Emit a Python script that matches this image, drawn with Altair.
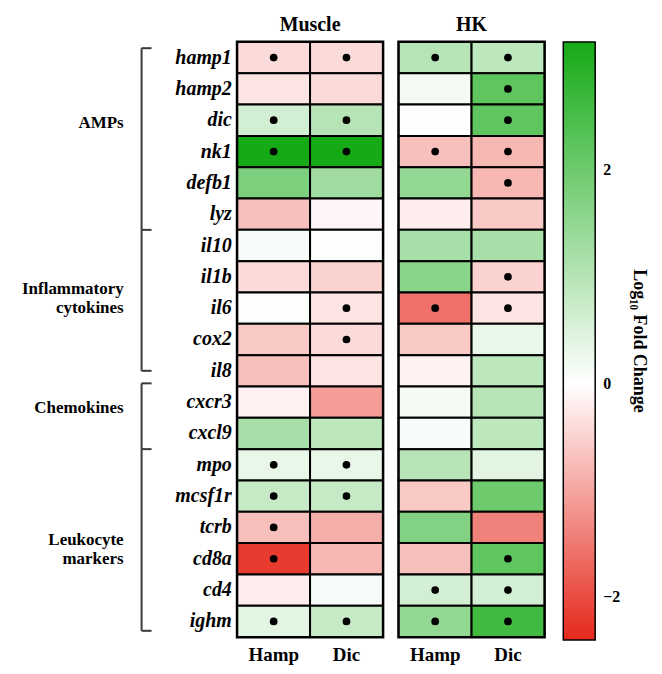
import altair as alt
import pandas as pd

genes = ["hamp1", "hamp2", "dic", "nk1", "defb1", "lyz", "il10", "il1b", "il6", "cox2",
         "il8", "cxcr3", "cxcl9", "mpo", "mcsf1r", "tcrb", "cd8a", "cd4", "ighm"]
treatments = ["Hamp", "Dic"]

muscle_hamp = [-0.4, -0.3, 0.6, 3.2, 1.8, -0.7, 0.1, -0.4, 0.05, -0.6, -0.7, -0.15, 1.2, 0.3, 0.8, -0.7, -2.2, -0.2, 0.4]
muscle_dic = [-0.4, -0.4, 1.0, 3.2, 1.3, -0.1, 0.05, -0.5, -0.3, -0.4, -0.3, -1.1, 0.9, 0.3, 0.8, -0.9, -0.8, 0.1, 0.8]
hk_hamp = [1.0, 0.15, 0.02, -0.7, 1.5, -0.2, 1.2, 1.6, -1.6, -0.6, -0.15, 0.15, 0.1, 1.0, -0.6, 1.7, -0.7, 0.6, 1.5]
hk_dic = [0.9, 2.2, 2.2, -0.8, -0.8, -0.6, 1.2, -0.5, -0.3, 0.3, 0.9, 1.0, 0.9, 0.4, 2.0, -1.4, 2.2, 0.6, 2.6]

muscle_hamp_sig = [1, 0, 1, 1, 0, 0, 0, 0, 0, 0, 0, 0, 0, 1, 1, 1, 1, 0, 1]
muscle_dic_sig = [1, 0, 1, 1, 0, 0, 0, 0, 1, 1, 0, 0, 0, 1, 1, 0, 0, 0, 1]
hk_hamp_sig = [1, 0, 0, 1, 0, 0, 0, 0, 1, 0, 0, 0, 0, 0, 0, 0, 0, 1, 1]
hk_dic_sig = [1, 1, 1, 1, 1, 0, 0, 1, 1, 0, 0, 0, 0, 0, 0, 0, 1, 1, 1]

group_names = ["AMPs", "Inflammatory\ncytokines", "Chemokines", "Leukocyte\nmarkers"]
group_start = [0.2, 6.0, 10.9, 13.0]
group_end = [6.0, 10.5, 13.0, 18.8]
group_label_row = [2.6, 7.9, 11.7, 15.9]

color_domain = [-2.4, 0, 3.2]
color_range = ["#e6281c", "#ffffff", "#16aa16"]
legend_values = [-2, 0, 2]

FONT = "Liberation Serif"


def tissue_df(hamp, dic, hamp_sig, dic_sig):
    rows = []
    for i, g in enumerate(genes):
        rows.append({"gene": g, "treatment": "Hamp", "value": hamp[i], "sig": hamp_sig[i]})
        rows.append({"gene": g, "treatment": "Dic", "value": dic[i], "sig": dic_sig[i]})
    return pd.DataFrame(rows)


df_muscle = tissue_df(muscle_hamp, muscle_dic, muscle_hamp_sig, muscle_dic_sig)
df_hk = tissue_df(hk_hamp, hk_dic, hk_hamp_sig, hk_dic_sig)

groups_df = pd.DataFrame({"name": group_names, "start": group_start, "end": group_end,
                          "label_row": group_label_row})
hooks_df = pd.DataFrame({"row": sorted(set(group_start + group_end))})

color_scale = alt.Scale(domain=color_domain, range=color_range, interpolate="rgb", clamp=True)
legend = alt.Legend(
    title="Log\u2081\u2080 Fold Change", orient="none", legendX=327, legendY=0,
    direction="vertical", gradientLength=600, gradientThickness=32,
    values=legend_values, format="d", gradientStrokeColor="black", gradientStrokeWidth=1.5,
    labelFont=FONT, labelFontSize=16, labelFontWeight="bold", labelColor="black",
    labelOffset=8, titleFont=FONT, titleFontSize=18, titleFontWeight="bold",
    titleColor="black", titleOrient="right", titleAnchor="middle", titlePadding=10,
    padding=0,
)

W, H = 146, 597


def heat(df, title, show_y):
    y_axis = alt.Axis(labelFont=FONT, labelFontSize=20, labelFontWeight="bold",
                      labelFontStyle="italic", labelColor="black", ticks=False,
                      domain=False, labelPadding=6, title=None) if show_y else None
    base = alt.Chart(df)
    x = alt.X("treatment:N", sort=treatments,
              scale=alt.Scale(paddingInner=0, paddingOuter=0),
              axis=alt.Axis(orient="bottom", labelAngle=0, ticks=False, domain=False,
                            labelPadding=9, labelFont=FONT, labelFontSize=19,
                            labelFontWeight="bold", labelColor="black", title=None))
    y = alt.Y("gene:N", sort=genes, scale=alt.Scale(paddingInner=0, paddingOuter=0),
              axis=y_axis)
    rect = base.mark_rect(stroke="black", strokeWidth=2).encode(
        x=x, y=y,
        color=alt.Color("value:Q", scale=color_scale, legend=legend),
    )
    dots = base.mark_circle(color="black", opacity=1, size=60).transform_filter(
        alt.datum.sig == 1
    ).encode(x=alt.X("treatment:N", sort=treatments), y=alt.Y("gene:N", sort=genes))
    return alt.layer(rect, dots).properties(
        width=W, height=H,
        title=alt.TitleParams(title, font=FONT, fontSize=20, fontWeight="bold",
                              color="black", offset=6, anchor="middle"),
    )


bscale = alt.Scale(domain=[0, 19], reverse=True, nice=False, zero=False)
bracket_line = alt.Chart(groups_df).mark_rule(color="#3a3a3a", strokeWidth=2).encode(
    x=alt.value(-96),
    y=alt.Y("start:Q", scale=bscale, axis=None),
    y2="end:Q",
)
bracket_hooks = alt.Chart(hooks_df).mark_rule(color="#3a3a3a", strokeWidth=2).encode(
    x=alt.value(-96), x2=alt.value(-86),
    y=alt.Y("row:Q", scale=bscale, axis=None),
)
group_text = alt.Chart(groups_df).mark_text(
    align="right", baseline="middle", lineBreak="\n", font=FONT, fontSize=17,
    fontWeight="bold", color="black",
).encode(
    x=alt.value(-114),
    y=alt.Y("label_row:Q", scale=bscale, axis=None),
    text="name:N",
)
brackets = alt.layer(bracket_line, bracket_hooks, group_text)

muscle = alt.layer(heat(df_muscle, "Muscle", True), brackets).resolve_scale(y="independent")
hk = heat(df_hk, "HK", False)

chart = alt.hconcat(muscle, hk, spacing=10).resolve_scale(
    color="shared", y="independent"
).properties(
    padding={"left": 12, "top": 4, "right": 6, "bottom": 0}
).configure_view(stroke="black", strokeWidth=3)

chart.save("out.html", embed_options={"renderer": "svg", "actions": False})
